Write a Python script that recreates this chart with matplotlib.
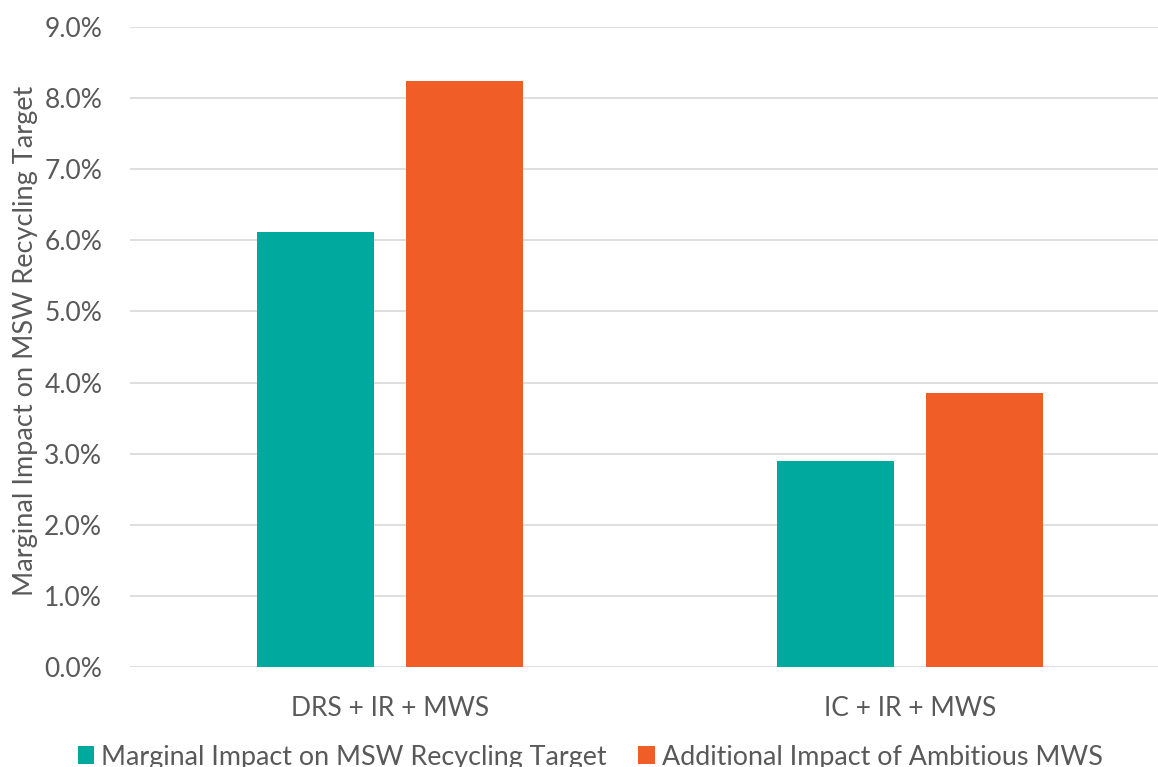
import numpy as np
import matplotlib.pyplot as plt
from matplotlib.ticker import FuncFormatter

categories = ["DRS + IR + MWS", "IC + IR + MWS"]
marginal_impact = [6.12, 2.90]
additional_impact = [8.24, 3.85]
series_labels = ["Marginal Impact on MSW Recycling Target",
                 "Additional Impact of Ambitious MWS"]
y_ticks = [0, 1, 2, 3, 4, 5, 6, 7, 8, 9]

TEAL = "#00A99D"
ORANGE = "#F15D26"
GREY = "#595959"

plt.rcParams.update({
    "font.family": ["Lato", "DejaVu Sans"],
    "font.size": 19,
    "text.color": GREY,
    "axes.labelcolor": GREY,
    "xtick.color": GREY,
    "ytick.color": GREY,
})

fig = plt.figure(figsize=(11.58, 7.67), dpi=100)
# plot area runs past the right edge, the reference is cropped there
ax = fig.add_axes([130 / 1158, 100 / 767, 1040 / 1158, 640 / 767])

x = np.arange(len(categories))
w = 0.225
off = 0.1425
b1 = ax.bar(x - off, marginal_impact, w, color=TEAL, label=series_labels[0], zorder=3)
b2 = ax.bar(x + off, additional_impact, w, color=ORANGE, label=series_labels[1], zorder=3)

ax.set_xlim(-0.5, 1.5)
ax.set_ylim(0, 9)
ax.set_yticks(y_ticks)
ax.yaxis.set_major_formatter(FuncFormatter(lambda v, p: f"{v:.1f}%"))
ax.set_xticks(x)
ax.set_xticklabels(categories)
ax.grid(axis="y", color="#D9D9D9", linewidth=1.2, zorder=0)
for s in ax.spines.values():
    s.set_visible(False)
ax.tick_params(axis="both", length=0, labelsize=19)
ax.tick_params(axis="y", pad=20)
ax.tick_params(axis="x", pad=21)

ax.set_ylabel("Marginal Impact on MSW Recycling Target", fontsize=19.5)
ax.yaxis.set_label_coords(-92 / 1040, 0.509)

fig.legend(handles=[b1, b2], loc="center", bbox_to_anchor=(590 / 1158, 1 - 757 / 767),
           ncol=2, frameon=False, fontsize=19.4, handlelength=0.6, handleheight=0.6,
           handletextpad=0.26, columnspacing=1.19)

fig.savefig("out.png", dpi=100)
